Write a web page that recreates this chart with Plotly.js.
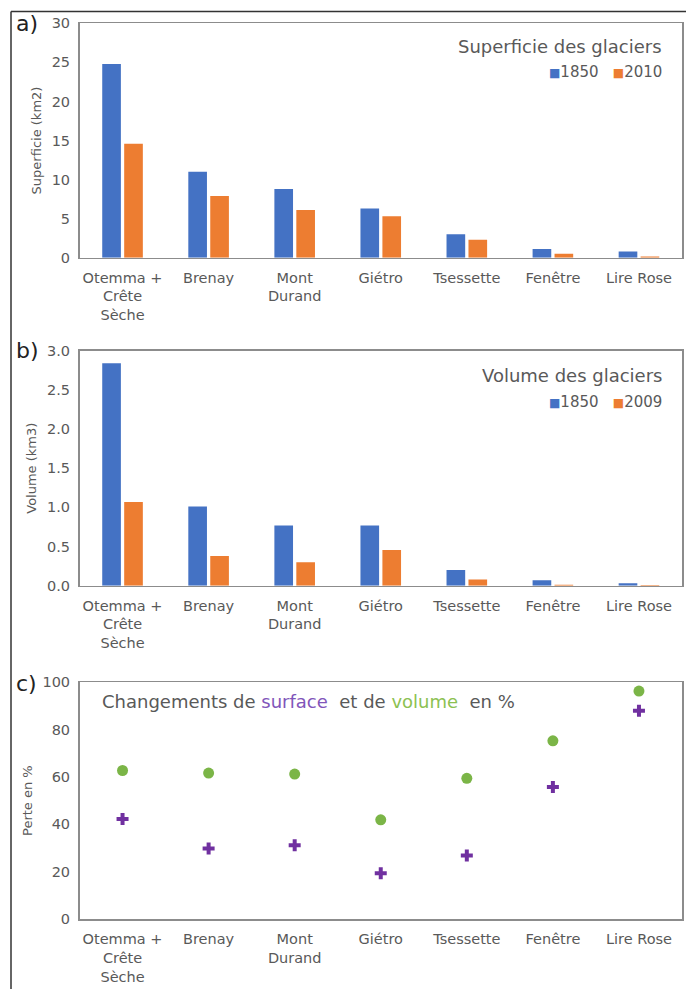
<!DOCTYPE html>
<html>
<head>
<meta charset="utf-8">
<script src="https://cdn.plot.ly/plotly-3.0.1.min.js"></script>
<style>html,body{margin:0;padding:0;background:#fff;}#chart{width:686px;height:989px;}</style>
</head>
<body>
<div id="chart"></div>
<script>
// ---- data ----
var categories = ['Otemma + Crête Sèche', 'Brenay', 'Mont Durand', 'Giétro', 'Tsessette', 'Fenêtre', 'Lire Rose'];
var tickLabels = ['Otemma +<br>Crête<br>Sèche', 'Brenay', 'Mont<br>Durand', 'Giétro', 'Tsessette', 'Fenêtre', 'Lire Rose'];
var surface1850 = [24.8, 11.0, 8.8, 6.3, 3.0, 1.1, 0.8];
var surface2010 = [14.6, 7.9, 6.1, 5.3, 2.3, 0.5, 0.15];
var volume1850 = [2.84, 1.01, 0.77, 0.77, 0.20, 0.068, 0.03];
var volume2009 = [1.07, 0.38, 0.30, 0.455, 0.08, 0.013, 0.01];
var surfaceLoss = [42.3, 29.8, 31.2, 19.4, 26.9, 55.8, 87.9];
var volumeLoss = [62.7, 61.6, 61.2, 41.9, 59.4, 75.2, 96.2];
var yearsA = ['1850', '2010'];
var yearsB = ['1850', '2009'];

// ---- styles ----
var W = 686, H = 989;
var BLUE = '#4472C4', ORANGE = '#ED7D31', GREEN = '#7BB547', PURPLE = '#7030A0';
var TXT = '#595959';
var FONT = 'DejaVu Sans, Verdana, sans-serif';
function px(x) { return x / W; }
function py(y) { return 1 - y / H; }

var traces = [
  {type: 'bar', x: categories, y: surface1850, name: yearsA[0], marker: {color: BLUE}, xaxis: 'x', yaxis: 'y'},
  {type: 'bar', x: categories, y: surface2010, name: yearsA[1], marker: {color: ORANGE}, xaxis: 'x', yaxis: 'y'},
  {type: 'bar', x: categories, y: volume1850, name: yearsB[0], marker: {color: BLUE}, xaxis: 'x2', yaxis: 'y2'},
  {type: 'bar', x: categories, y: volume2009, name: yearsB[1], marker: {color: ORANGE}, xaxis: 'x2', yaxis: 'y2'},
  {type: 'scatter', mode: 'markers', x: categories, y: volumeLoss, name: 'volume', marker: {color: GREEN, size: 11, symbol: 'circle'}, xaxis: 'x3', yaxis: 'y3'},
  {type: 'scatter', mode: 'markers', x: categories, y: surfaceLoss, name: 'surface', marker: {color: PURPLE, size: 10, symbol: 'cross'}, xaxis: 'x3', yaxis: 'y3'}
];

var xdom = [px(79.5), px(682)];
function xax(anchor) {
  return {
    domain: xdom, anchor: anchor, type: 'category', categoryorder: 'array', categoryarray: categories,
    tickmode: 'array', tickvals: categories, ticktext: tickLabels, range: [-0.5, 6.5],
    showline: true, mirror: true, linecolor: '#8c8c8c', linewidth: 1.5, ticks: '', showgrid: false,
    tickfont: {family: FONT, size: 14.5, color: TXT}, ticklabelstandoff: 6, automargin: false, fixedrange: true
  };
}
function yax(anchor, dom, range, dtick, fmt, title) {
  return {
    domain: dom, anchor: anchor, range: range, dtick: dtick, tick0: 0, tickformat: fmt,
    showline: true, mirror: true, linecolor: '#8c8c8c', linewidth: 1.5, ticks: '', showgrid: false, zeroline: false,
    tickfont: {family: FONT, size: 14.5, color: TXT}, ticklabelstandoff: 5, automargin: false, fixedrange: true,
    title: {text: title, font: {family: FONT, size: 13, color: TXT}, standoff: 7}
  };
}
function legendText(years) {
  return '<span style="color:' + BLUE + ';font-size:12px">■</span>' + years[0] +
    '&nbsp;&nbsp;&nbsp;<span style="color:' + ORANGE + ';font-size:12px">■</span>' + years[1];
}

var layout = {
  width: W, height: H,
  margin: {l: 0, r: 0, t: 0, b: 0, pad: 0},
  paper_bgcolor: '#fff', plot_bgcolor: '#fff',
  showlegend: false,
  barmode: 'group', bargap: 0.49, bargroupgap: 0.15,
  font: {family: FONT, color: TXT},
  xaxis: xax('y'),
  yaxis: yax('x', [py(257.7), py(23.3)], [0, 30], 5, '', 'Superficie (km2)'),
  xaxis2: xax('y2'),
  yaxis2: yax('x2', [py(585.7), py(350.7)], [0, 3], 0.5, '.1f', 'Volume (km3)'),
  xaxis3: xax('y3'),
  yaxis3: yax('x3', [py(919.3), py(682)], [0, 100], 20, '', 'Perte en %'),
  shapes: [
    {type: 'line', xref: 'paper', yref: 'paper', x0: px(11), x1: px(11), y0: 0, y1: py(11.5), line: {color: '#333', width: 1.5}},
    {type: 'line', xref: 'paper', yref: 'paper', x0: px(11), x1: 1, y0: py(11.5), y1: py(11.5), line: {color: '#333', width: 1.5}}
  ],
  annotations: [
    {xref: 'paper', yref: 'paper', x: px(14), y: py(23), xanchor: 'left', yanchor: 'middle', showarrow: false, text: 'a)', font: {family: FONT, size: 22, color: '#222'}},
    {xref: 'paper', yref: 'paper', x: px(14), y: py(351), xanchor: 'left', yanchor: 'middle', showarrow: false, text: 'b)', font: {family: FONT, size: 22, color: '#222'}},
    {xref: 'paper', yref: 'paper', x: px(14), y: py(683), xanchor: 'left', yanchor: 'middle', showarrow: false, text: 'c)', font: {family: FONT, size: 22, color: '#222'}},
    {xref: 'paper', yref: 'paper', x: px(664), y: py(46.7), xanchor: 'right', yanchor: 'middle', showarrow: false, text: 'Superficie des glaciers', font: {family: FONT, size: 18, color: TXT}},
    {xref: 'paper', yref: 'paper', x: px(664), y: py(71.7), xanchor: 'right', yanchor: 'middle', showarrow: false, text: legendText(yearsA), font: {family: FONT, size: 15, color: TXT}},
    {xref: 'paper', yref: 'paper', x: px(664), y: py(375.7), xanchor: 'right', yanchor: 'middle', showarrow: false, text: 'Volume des glaciers', font: {family: FONT, size: 18, color: TXT}},
    {xref: 'paper', yref: 'paper', x: px(664), y: py(402.3), xanchor: 'right', yanchor: 'middle', showarrow: false, text: legendText(yearsB), font: {family: FONT, size: 15, color: TXT}},
    {xref: 'paper', yref: 'paper', x: px(100), y: py(701), xanchor: 'left', yanchor: 'middle', showarrow: false,
      text: 'Changements de <span style="color:#8155BA">surface</span>&nbsp; et de <span style="color:#8CC152">volume</span>&nbsp; en %', font: {family: FONT, size: 18, color: TXT}}
  ]
};

Plotly.newPlot('chart', traces, layout, {displayModeBar: false, staticPlot: true});
</script>
</body>
</html>
